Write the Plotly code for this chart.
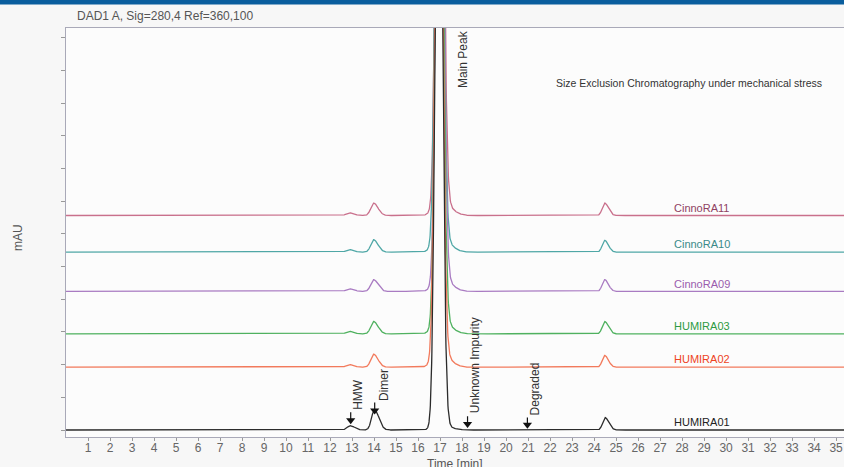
import numpy as np
import plotly.graph_objects as go

# Samples, stacked from top to bottom
samples = ["CinnoRA11", "CinnoRA10", "CinnoRA09", "HUMIRA03", "HUMIRA02", "HUMIRA01"]
line_colors = ["#c9708c", "#4fa7a6", "#a97bc2", "#4fb15f", "#f27a5c", "#2b2b2b"]
label_colors = ["#8f4262", "#3a8a88", "#9a5cad", "#2e9a42", "#ee4424", "#222222"]
offsets_mau = [328, 272, 212, 147, 96, 0]          # vertical stacking offset of each trace

# Peak table (retention time in min, heights in mAU above each trace's baseline)
hmw_rt = [12.88, 12.88, 12.88, 12.88, 12.88, 12.92]
hmw_height = [4, 4, 4, 4, 4, 6.5]
dimer_rt = [13.98, 13.98, 13.98, 13.98, 13.98, 14.02]
dimer_height = [19, 19, 18, 19, 20, 31]
main_rt = [16.97, 16.95, 16.97, 16.95, 16.93, 16.93]
main_height = [1150, 1150, 1150, 1150, 1150, 1150]
main_foot = [24, 24, 24, 24, 24, 9]                 # broad foot under the main peak
late_rt = [24.48, 24.48, 24.48, 24.48, 24.48, 24.5]
late_height = [19, 18, 18, 19, 18, 19]

# Marked positions
mark_names = ["HMW", "Dimer", "Unknown Impurity", "Degraded"]
mark_rt = [12.94, 14.03, 18.25, 20.97]
mark_tip = [12, 27, 6, 5]
mark_top = [27, 42, 21, 19]

x_ticks = list(range(1, 36))

t = np.arange(0.0, 35.4, 0.01)


def peak(rt, h, sl, sr):
    s = np.where(t < rt, sl, sr)
    return h * np.exp(-0.5 * ((t - rt) / s) ** 2)


fig = go.Figure()
for i, name in enumerate(samples):
    y = (offsets_mau[i]
         + peak(hmw_rt[i], hmw_height[i], 0.14, 0.2)
         + peak(dimer_rt[i], dimer_height[i], 0.13, 0.2)
         + peak(main_rt[i], main_height[i], 0.14, 0.16)
         + peak(main_rt[i] + 0.05, main_foot[i], 0.28, 0.42)
         + peak(late_rt[i], late_height[i], 0.11, 0.17))
    fig.add_trace(go.Scatter(x=t, y=y, mode="lines", name=name,
                             line=dict(color=line_colors[i], width=1.3),
                             hoverinfo="skip", showlegend=False))
    fig.add_annotation(x=28.9, y=offsets_mau[i] + 12, text=name, showarrow=False,
                       xanchor="center", yanchor="middle",
                       font=dict(size=11, color=label_colors[i]))

# Arrow markers
for i in range(len(mark_names)):
    fig.add_trace(go.Scatter(x=[mark_rt[i], mark_rt[i]], y=[mark_top[i], mark_tip[i] + 3],
                             mode="lines", line=dict(color="#111111", width=1.2),
                             hoverinfo="skip", showlegend=False))
fig.add_trace(go.Scatter(x=mark_rt, y=[v + 3 for v in mark_tip], mode="markers",
                         marker=dict(symbol="triangle-down", size=8, color="#111111"),
                         hoverinfo="skip", showlegend=False))

label_x = [13.3, 14.43, 18.6, 21.33]
label_bottom = [28, 42, 23, 19]
for i, name in enumerate(mark_names):
    fig.add_annotation(x=label_x[i], y=label_bottom[i], text=name, textangle=-90,
                       showarrow=False, xanchor="center", yanchor="bottom",
                       font=dict(size=12, color="#333333"))
fig.add_annotation(x=18.07, y=614, text="Main Peak", textangle=-90, showarrow=False,
                   xanchor="center", yanchor="top", font=dict(size=12, color="#333333"))

# Header texts and axis titles
fig.add_annotation(xref="paper", yref="paper", x=0.0116, y=1.029, text="DAD1 A, Sig=280,4 Ref=360,100",
                   showarrow=False, xanchor="left", yanchor="middle",
                   font=dict(size=12, color="#555555"))
fig.add_annotation(xref="paper", yref="paper", x=0.8014, y=0.8655,
                   text="Size Exclusion Chromatography under mechanical stress",
                   showarrow=False, xanchor="center", yanchor="middle",
                   font=dict(size=10.5, color="#333333"))
fig.add_annotation(xref="paper", yref="paper", x=-0.0617, y=0.489, text="mAU", textangle=-90,
                   showarrow=False, xanchor="center", yanchor="middle",
                   font=dict(size=12, color="#555555"))
fig.add_annotation(xref="paper", yref="paper", x=0.5, y=-0.066, text="Time [min]",
                   showarrow=False, xanchor="center", yanchor="middle",
                   font=dict(size=12, color="#555555"))

# Top banner
fig.add_shape(type="rect", xref="paper", yref="paper", x0=-0.1, x1=1.1, y0=1.0575, y1=1.08,
              fillcolor="#0a5e9e", line=dict(width=0), layer="above")

fig.update_layout(
    width=844, height=467,
    margin=dict(l=66, r=0, t=28, b=30),
    paper_bgcolor="#f7f7f7", plot_bgcolor="#fcfcfc",
    font=dict(family="Liberation Sans, Arial, sans-serif"),
    xaxis=dict(range=[0, 35.36], tickvals=x_ticks, ticks="outside", ticklen=3,
               ticklabelstandoff=-3,
               tickcolor="#999999", showline=True, linecolor="#a9a9b8", mirror=True,
               showgrid=False, zeroline=False, tickfont=dict(size=12, color="#666666")),
    yaxis=dict(range=[-10.7, 614.7], tick0=0, dtick=50, ticks="outside", ticklen=4,
               tickcolor="#999999", showticklabels=False, showline=True, linecolor="#a9a9b8",
               showgrid=False, zeroline=False),
)

fig.write_html("out.html")
